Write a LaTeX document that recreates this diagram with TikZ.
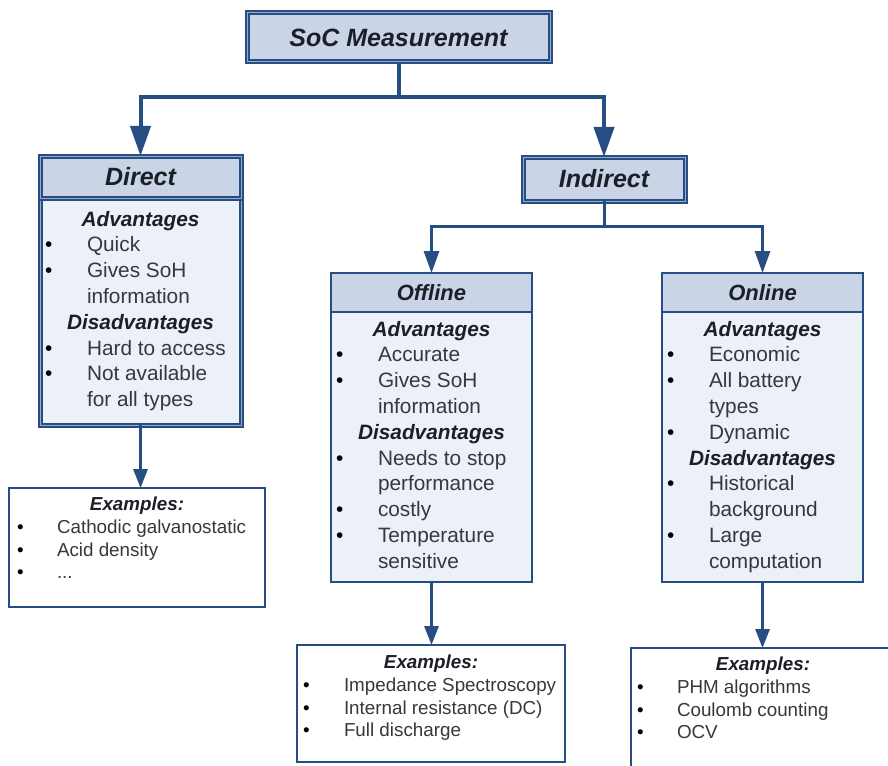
\documentclass[tikz,border=0pt]{standalone}
\usepackage{fontspec}
\setmainfont{Liberation Sans}
\usetikzlibrary{arrows.meta}
\definecolor{bdr}{RGB}{38,78,130}
\definecolor{hdr}{RGB}{201,213,230}
\definecolor{bodyc}{RGB}{236,240,247}
\definecolor{txt}{RGB}{55,55,60}
\definecolor{hd}{RGB}{28,30,40}
\definecolor{dblc}{RGB}{150,172,202}
\newcommand{\ttl}[1]{\multicolumn{2}{c}{\bfseries\itshape\color{hd}#1}}
\newcommand{\bu}{\leavevmode{\color{black}\textbullet}}
\newcommand{\bodyfnt}{\fontsize{20.8}{25.8}\selectfont}
\newcommand{\exfnt}{\fontsize{18.8}{22.7}\selectfont}
\tikzset{
  x=1pt, y=-1pt,
  thickbox/.style={draw=bdr, line width=2pt, double=dblc, double distance=1pt, outer sep=0pt, inner sep=0pt, anchor=north west},
  thinbox/.style={draw=bdr, line width=2.6pt, outer sep=0pt, inner sep=0pt, anchor=north west},
  exbox/.style={draw=bdr, line width=2pt, fill=white, outer sep=0pt, inner sep=0pt, anchor=north west},
  bigtitle/.style={font=\fontsize{25}{30}\selectfont\bfseries\itshape, text=hd},
  midtitle/.style={font=\fontsize{22}{26}\selectfont\bfseries\itshape, text=hd},
  listtext/.style={inner sep=0pt, outer sep=0pt, anchor=north west, text=txt},
  conna/.style={draw=bdr, line width=4pt, -{Triangle[width=20pt,length=30pt]}},
  connb/.style={draw=bdr, line width=3pt, -{Triangle[width=15pt,length=22pt]}},
  connc/.style={draw=bdr, line width=3pt, -{Triangle[width=14pt,length=19pt]}},
}
\begin{document}
\begin{tikzpicture}
\useasboundingbox (0,0) rectangle (888,765);
\clip (0,0) rectangle (888,765);

% top
\node[thickbox, fill=hdr, minimum width=303pt, minimum height=49pt, bigtitle] (soc) at (247,13) {SoC Measurement};

% Direct
\node[thickbox, fill=bodyc, minimum width=201pt, minimum height=227pt] (dirbody) at (40,198) {};
\node[thickbox, fill=hdr, minimum width=201pt, minimum height=42pt, bigtitle] (direct) at (40,156) {Direct};
\node[listtext, font=\bodyfnt] (dirtxt) at (45,208) {%
\begin{tabular}{@{}p{42pt}@{}p{149pt}@{}}
\ttl{Advantages}\\
\bu & Quick\\
\bu & Gives SoH\\
 & information\\
\ttl{Disadvantages}\\
\bu & Hard to access\\
\bu & Not available\\
 & for all types
\end{tabular}};

% Indirect
\node[thickbox, fill=hdr, minimum width=162pt, minimum height=44pt, bigtitle] (indirect) at (523,157) {Indirect};

% Offline
\node[thinbox, fill=bodyc, minimum width=201pt, minimum height=270pt] (offbody) at (331,312) {};
\node[thinbox, fill=hdr, minimum width=201pt, minimum height=39pt, midtitle] (offline) at (331,273) {Offline};
\node[listtext, font=\bodyfnt] (offtxt) at (336,318) {%
\begin{tabular}{@{}p{42pt}@{}p{149pt}@{}}
\ttl{Advantages}\\
\bu & Accurate\\
\bu & Gives SoH\\
 & information\\
\ttl{Disadvantages}\\
\bu & Needs to stop\\
 & performance\\
\bu & costly\\
\bu & Temperature\\
 & sensitive
\end{tabular}};

% Online
\node[thinbox, fill=bodyc, minimum width=201pt, minimum height=270pt] (onbody) at (662,312) {};
\node[thinbox, fill=hdr, minimum width=201pt, minimum height=39pt, midtitle] (online) at (662,273) {Online};
\node[listtext, font=\bodyfnt] (ontxt) at (667,318) {%
\begin{tabular}{@{}p{42pt}@{}p{149pt}@{}}
\ttl{Advantages}\\
\bu & Economic\\
\bu & All battery\\
 & types\\
\bu & Dynamic\\
\ttl{Disadvantages}\\
\bu & Historical\\
 & background\\
\bu & Large\\
 & computation
\end{tabular}};

% Examples boxes
\node[exbox, minimum width=256pt, minimum height=119pt] (direx) at (9,488) {};
\node[listtext, font=\exfnt] (dirextxt) at (17,495) {%
\begin{tabular}{@{}p{40pt}@{}p{200pt}@{}}
\ttl{Examples:}\\
\bu & Cathodic galvanostatic\\
\bu & Acid density\\
\bu & ...
\end{tabular}};

\node[exbox, minimum width=268pt, minimum height=117pt] (offex) at (297,645) {};
\node[listtext, font=\exfnt] (offextxt) at (303,653) {%
\begin{tabular}{@{}p{41pt}@{}p{215pt}@{}}
\ttl{Examples:}\\
\bu & \mbox{Impedance Spectroscopy}\\
\bu & Internal resistance (DC)\\
\bu & Full discharge
\end{tabular}};

\node[exbox, minimum width=264pt, minimum height=130pt] (onex) at (631,648) {};
\node[listtext, font=\exfnt] (onextxt) at (637,655) {%
\begin{tabular}{@{}p{40pt}@{}p{212pt}@{}}
\ttl{Examples:}\\
\bu & PHM algorithms\\
\bu & Coulomb counting\\
\bu & OCV
\end{tabular}};

% connectors
\draw[conna] (soc.south) -- ++(0,35.5) -| (direct.north);
\draw[conna] (soc.south) -- ++(0,35.5) -| (indirect.north);
\draw[connb] (indirect.south) -- ++(0,25) -| (offline.north);
\draw[connb] (indirect.south) -- ++(0,25) -| (online.north);
\draw[connc] (dirbody.south) -- (dirbody.south |- direx.north);
\draw[connc] (offbody.south) -- (offbody.south |- offex.north);
\draw[connc] (onbody.south) -- (onbody.south |- onex.north);
\end{tikzpicture}
\end{document}
